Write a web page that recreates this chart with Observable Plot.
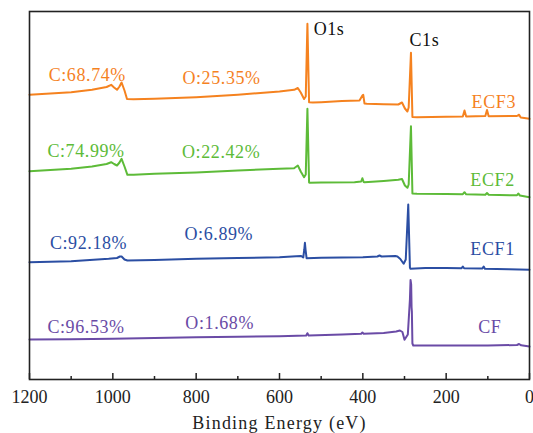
<!DOCTYPE html>
<html><head><meta charset="utf-8">
<script src="https://cdn.jsdelivr.net/npm/d3@7"></script>
<script src="https://cdn.jsdelivr.net/npm/@observablehq/plot@0.6"></script>
<style>
body{margin:0;background:#fff;}
#chart svg{display:block;}
g[aria-label="x-axis label"] text{letter-spacing:1.2px;}
g[aria-label="text"] text{letter-spacing:0.6px;}
</style></head><body><div id="chart"></div>
<script>
// Binding energy (eV), intensity (a.u., offset per spectrum)
const ecf3 = [[1200,284.7],[1150,286],[1100,287.3],[1050,289.7],[1015,292.5],[1004,294.7],[997,292],[990,289.7],[984,293],[979,297],[972,289],[966,280.5],[950,280.3],[900,280.7],[800,282.3],[700,284.7],[600,288],[565,289.7],[556,291.5],[549,287],[541,280.5],[537,283],[533,355.7],[529,277.3],[520,277],[500,277.3],[450,278.5],[408,279],[401,284],[399,284.7],[396,276],[390,275.7],[350,275.3],[315,275],[306,277],[299,271],[293,268],[290,272],[284.5,326.7],[281,262.5],[270,262.3],[200,262.8],[160,263],[156,269],[152,263],[106,263.5],[102,269.5],[98,263.3],[30,263.5],[25,264.8],[21,262],[0,260.7]];
const ecf2 = [[1200,208.3],[1150,209.5],[1100,210.7],[1050,213],[1015,215.5],[1004,217.3],[997,215.5],[990,214],[984,217],[979,220.7],[972,213],[965,204.7],[950,204.8],[900,205.7],[800,207],[700,209],[600,210.7],[565,211.3],[556,214],[549,208],[541,202.3],[537,205],[533,270.7],[529,197],[527,196.7],[500,197],[420,197.3],[404,198],[401,201.3],[398,197.5],[396,197.3],[350,198.5],[315,199.7],[306,200.5],[299,194],[293,191.7],[290,195],[284.5,253.3],[281,186],[270,185.7],[200,185.5],[160,185.3],[156,187.3],[152,185.2],[106,184.8],[102,186.5],[98,184.7],[30,184.2],[27,186],[23,184],[0,182.3]];
const ecf1 = [[1200,117.3],[1100,118.3],[1010,120.7],[990,121.5],[983,123],[979,123],[972,120],[965,119],[900,119.5],[800,120.7],[700,121.5],[600,122.3],[560,123.3],[548,123.5],[543,122],[540.5,130],[539,136.7],[537.5,130],[535,121.3],[500,121.7],[400,122.3],[365,123],[360,124],[355,123],[322,123.5],[317,123],[310,120.5],[302,115.7],[297,120],[291,175],[287,112],[286,110.8],[250,111.5],[200,111.5],[163,111.3],[160,113],[157,111.2],[113,111],[110,113],[107,110.8],[50,110.3],[0,109.7]];
const cf = [[1200,40],[1100,40.3],[1000,40.7],[900,41.5],[800,42.3],[700,42.8],[600,43.3],[536,44],[533,46.3],[530,44],[450,45],[404,45.7],[401,47],[398,45.8],[350,46.5],[320,48],[311,49],[305,47.5],[300,39.7],[292,45],[287,80],[285.5,99.5],[284,95],[283,72],[282.3,68],[281,36],[279,34],[250,34],[100,34],[30,34.5],[25,35.5],[20,34.2],[0,33]];

const seriesNames = ["ECF3","ECF2","ECF1","CF"];
const seriesColors = ["#f5821f","#5dbb38","#2b4ea3","#6a4ba6"];
const seriesData = [ecf3, ecf2, ecf1, cf];

// Composition labels
const labelText = ["C:68.74%","O:25.35%","ECF3","C:74.99%","O:22.42%","ECF2","C:92.18%","O:6.89%","ECF1","C:96.53%","O:1.68%","CF"];
const labelSeries = ["ECF3","ECF3","ECF3","ECF2","ECF2","ECF2","ECF1","ECF1","ECF1","CF","CF","CF"];
const labelEnergy = [1154,833,139,1157,834,142,1151,828,142,1157,826,123];
const labelIntensity = [299,296,272,223,222,194,131,140,125,46.5,51,47];

// Peak labels
const peakText = ["O1s","C1s"];
const peakEnergy = [518,288];
const peakIntensity = [345,334];

const majorTicks = [1200,1000,800,600,400,200,0];
const minorTicks = [1100,900,700,500,300,100];

const rows = seriesData.flatMap((d, i) => d.map(([e, v]) => ({series: seriesNames[i], energy: e, intensity: v})));
const labels = labelText.map((t, i) => ({text: t, series: labelSeries[i], energy: labelEnergy[i], intensity: labelIntensity[i]}));
const peaks = peakText.map((t, i) => ({text: t, energy: peakEnergy[i], intensity: peakIntensity[i]}));

const font = "Liberation Serif";
const chart = Plot.plot({
  width: 533,
  height: 433,
  marginLeft: 29,
  marginRight: 4,
  marginTop: 11,
  marginBottom: 54,
  style: {fontFamily: font, background: "#fff"},
  x: {domain: [1200, 0]},
  y: {domain: [0, 368], axis: null},
  color: {domain: seriesNames, range: seriesColors},
  marks: [
    Plot.line(rows, {x: "energy", y: "intensity", z: "series", stroke: "series", strokeWidth: 2}),
    Plot.text(labels, {x: "energy", y: "intensity", text: "text", fill: "series", textAnchor: "start", lineAnchor: "bottom", fontSize: 18, fontFamily: font}),
    Plot.text(peaks, {x: "energy", y: "intensity", text: "text", fill: "#111", textAnchor: "start", lineAnchor: "bottom", fontSize: 18, fontFamily: font}),
    Plot.axisX({ticks: majorTicks, tickSize: 6, dy: -6, text: null, label: null, stroke: "#222", strokeWidth: 1.5}),
    Plot.axisX({ticks: minorTicks, tickSize: 3, dy: -3, text: null, label: null, stroke: "#222", strokeWidth: 1.5}),
    Plot.axisX({ticks: majorTicks, tickSize: 0, tickPadding: 11, tickFormat: d => String(d), fontSize: 18, fontFamily: font, fill: "#222",
      label: "Binding Energy (eV)", labelAnchor: "center", labelArrow: "none", labelOffset: 49}),
    Plot.frame({stroke: "#222", strokeWidth: 1.6})
  ]
});
document.getElementById("chart").appendChild(chart);
</script>
</body></html>
